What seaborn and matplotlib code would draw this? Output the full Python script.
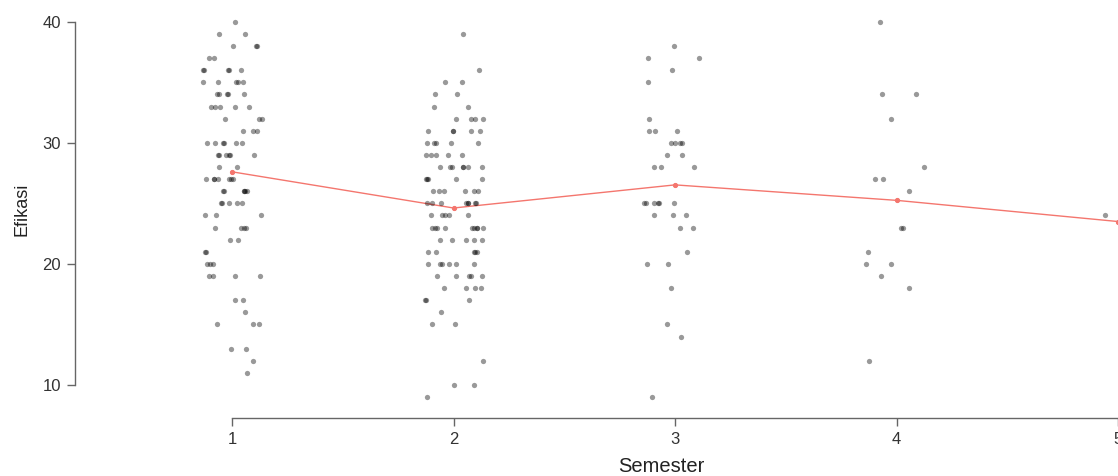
import numpy as np
import pandas as pd
import matplotlib
matplotlib.use('Agg')
import matplotlib.pyplot as plt
import seaborn as sns

# Efikasi scores per semester (value -> how many students)
sem1_values = [40, 39, 38, 37, 36, 35, 34, 33, 32, 31, 30, 29, 28, 27, 26, 25, 24, 23, 22, 21, 20, 19, 17, 16, 15, 13, 12, 11]
sem1_counts = [1, 2, 3, 2, 5, 5, 5, 5, 3, 3, 6, 6, 2, 7, 6, 5, 3, 4, 2, 2, 3, 4, 2, 1, 3, 2, 1, 1]

sem2_values = [39, 36, 35, 34, 33, 32, 31, 30, 29, 28, 27, 26, 25, 24, 23, 22, 21, 20, 19, 18, 17, 16, 15, 12, 10, 9]
sem2_counts = [1, 1, 2, 2, 2, 4, 5, 5, 5, 7, 5, 6, 8, 5, 9, 5, 5, 6, 5, 4, 3, 1, 2, 1, 2, 1]

sem3_values = [38, 37, 36, 35, 32, 31, 30, 29, 28, 25, 24, 23, 21, 20, 18, 15, 14, 9]
sem3_counts = [1, 2, 1, 1, 1, 3, 4, 2, 3, 6, 3, 2, 1, 2, 1, 1, 1, 1]

sem4_values = [40, 34, 32, 28, 27, 26, 23, 21, 20, 19, 18, 12]
sem4_counts = [1, 2, 1, 1, 2, 1, 2, 1, 2, 1, 1, 1]

sem5_values = [24, 23]
sem5_counts = [1, 1]

semesters = [1, 2, 3, 4, 5]
y_ticks = [10, 20, 30, 40]

# build long table
rows = []
for sem, vals, cnts in zip(semesters,
                           [sem1_values, sem2_values, sem3_values, sem4_values, sem5_values],
                           [sem1_counts, sem2_counts, sem3_counts, sem4_counts, sem5_counts]):
    for v in np.repeat(vals, cnts):
        rows.append({'Semester': sem, 'Efikasi': v})
df = pd.DataFrame(rows)

sns.set_style('white')
plt.rcParams['font.family'] = ['Liberation Sans', 'DejaVu Sans']

fig = plt.figure(figsize=(11.18, 4.76), dpi=100)
ax = fig.add_axes([75 / 1118, 58 / 476, 1 - 75 / 1118, 1 - 58 / 476])

np.random.seed(3)
sns.stripplot(data=df, x='Semester', y='Efikasi', order=semesters, color='black',
              alpha=0.4, size=3.8, jitter=0.14, linewidth=0, ax=ax)
sns.pointplot(data=df, x='Semester', y='Efikasi', order=semesters, errorbar=None,
              color='#f4766e', markers='o', markersize=3, linewidth=1, ax=ax)

# axis limits so category 1 sits at ~232px and 5 at the right edge
ax.set_xlim(-0.709, 4)
ax.set_ylim(7.27, 41.8)
ax.set_yticks(y_ticks)

# base R style open axes
sns.despine(ax=ax, top=True, right=True)
ax.spines['left'].set_bounds(10, 40)
ax.spines['bottom'].set_bounds(0, 4)
for s in ['left', 'bottom']:
    ax.spines[s].set_color('#666666')
    ax.spines[s].set_linewidth(1)
ax.tick_params(axis='both', direction='out', length=6, width=1, color='#666666',
               labelsize=12, labelcolor='#333333', pad=4, bottom=True, left=True)

ax.set_xlabel('Semester', fontsize=14.5, color='#222222')
ax.set_ylabel('Efikasi', fontsize=13, color='#222222')
ax.xaxis.set_label_coords((661 - 75) / 1043, -0.093)
ax.yaxis.set_label_coords(-0.043, 0.5)

fig.savefig('out.png', dpi=100)
